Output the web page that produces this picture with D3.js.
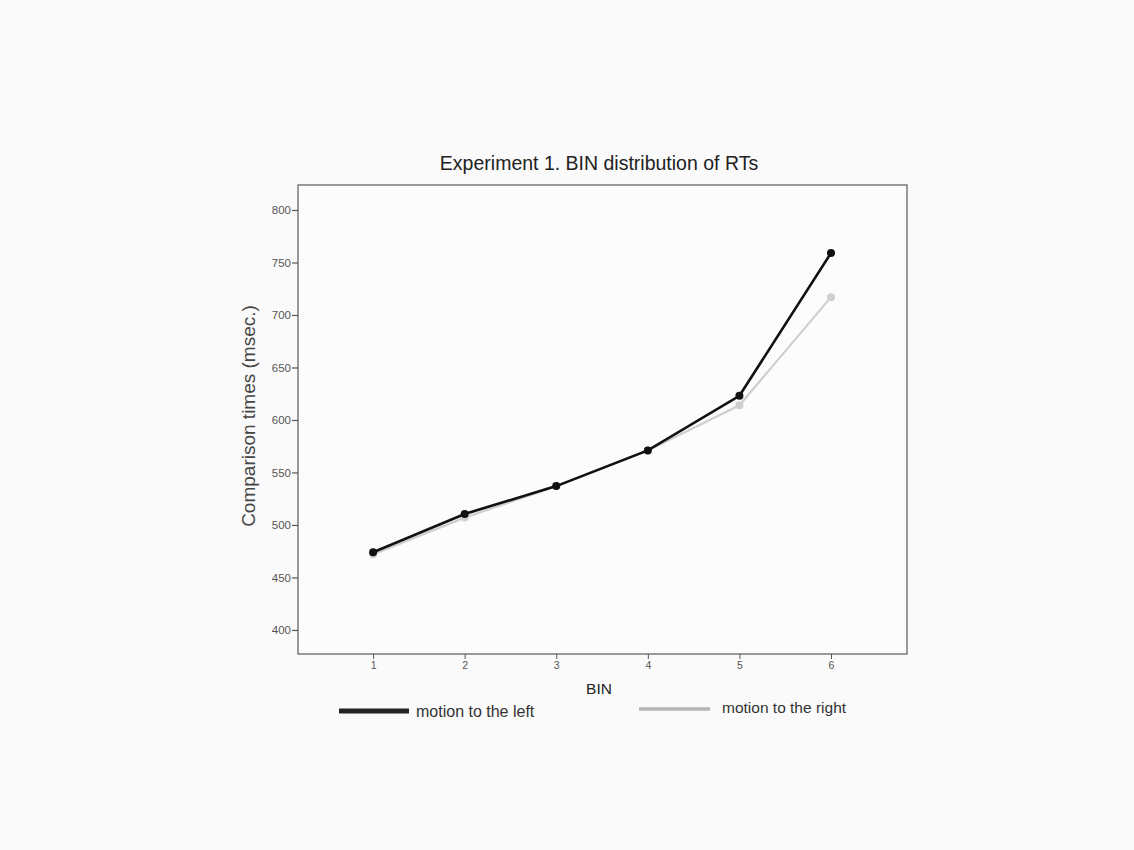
<!DOCTYPE html>
<html><head><meta charset="utf-8">
<script src="https://cdn.jsdelivr.net/npm/d3@7"></script>
<style>body{margin:0;background:#fafafa;}svg{display:block;font-family:"Liberation Sans",Arial,sans-serif;}</style>
</head><body>
<svg id="c" width="1134" height="850"></svg>
<script>
const bins = [1, 2, 3, 4, 5, 6];
const leftValues = [474, 510.5, 537, 571, 623, 759];
const rightValues = [472, 507, 537, 571, 614, 717];
const yTicks = [400, 450, 500, 550, 600, 650, 700, 750, 800];
const seriesNames = ["motion to the left", "motion to the right"];

const svg = d3.select("#c");
svg.append("rect").attr("width",1134).attr("height",850).attr("fill","#fafafa");
const L=298, T=185, R=907, B=654;
const x = d3.scaleLinear().domain([0.18, 6.83]).range([L, R]);
const y = d3.scaleLinear().domain([377.1, 823.8]).range([B, T]);

svg.append("rect").attr("x",L).attr("y",T).attr("width",R-L).attr("height",B-T)
  .attr("fill","#fcfcfc").attr("stroke","#666").attr("stroke-width",1.3);

const ya = svg.append("g").attr("transform",`translate(${L},0)`)
  .call(d3.axisLeft(y).tickValues(yTicks).tickSize(6).tickPadding(1).tickFormat(d3.format("d")));
ya.select(".domain").remove();
ya.selectAll("line").attr("stroke","#555").attr("stroke-width",1.2);
ya.selectAll("text").attr("fill","#555").attr("font-size",11.5);

const xa = svg.append("g").attr("transform",`translate(0,${B})`)
  .call(d3.axisBottom(x).tickValues(bins).tickSize(5).tickPadding(3).tickFormat(d3.format("d")));
xa.select(".domain").remove();
xa.selectAll("line").attr("stroke","#555");
xa.selectAll("text").attr("fill","#555").attr("font-size",10.5);

const line = d3.line().x((d,i)=>x(bins[i])).y(d=>y(d));
function drawSeries(vals, color, w, r){
  svg.append("path").datum(vals).attr("d",line).attr("fill","none").attr("stroke",color).attr("stroke-width",w);
  svg.selectAll(null).data(vals).enter().append("circle")
    .attr("cx",(d,i)=>x(bins[i])).attr("cy",d=>y(d)).attr("r",r).attr("fill",color);
}
drawSeries(rightValues, "#cfcfcf", 2.2, 4);
drawSeries(leftValues, "#111", 2.6, 4);

svg.append("text").attr("x",599).attr("y",170).attr("text-anchor","middle")
  .attr("font-size",19.5).attr("fill","#222").text("Experiment 1. BIN distribution of RTs");
svg.append("text").attr("transform","translate(255,416) rotate(-90)").attr("text-anchor","middle")
  .attr("font-size",19).attr("fill","#444").text("Comparison times (msec.)");
svg.append("text").attr("x",599).attr("y",694).attr("text-anchor","middle")
  .attr("font-size",15.5).attr("fill","#222").text("BIN");

svg.append("line").attr("x1",339).attr("x2",409).attr("y1",711).attr("y2",711).attr("stroke","#222").attr("stroke-width",5);
svg.append("text").attr("x",416).attr("y",717).attr("font-size",16).attr("fill","#333").text(seriesNames[0]);
svg.append("line").attr("x1",639).attr("x2",710).attr("y1",709).attr("y2",709).attr("stroke","#b5b5b5").attr("stroke-width",3.5);
svg.append("text").attr("x",722).attr("y",713).attr("font-size",15.5).attr("fill","#333").text(seriesNames[1]);
</script>
</body></html>
